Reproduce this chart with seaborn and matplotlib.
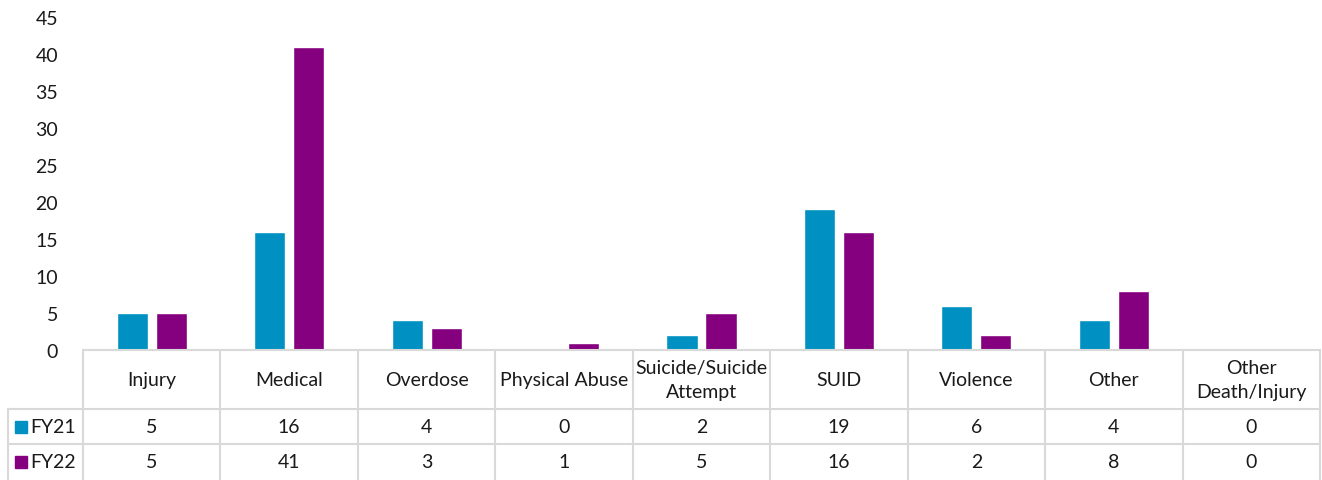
"""Child fatality / near-fatality counts by category, FY21 vs FY22, with data table."""

import matplotlib

matplotlib.use("Agg")

import matplotlib.pyplot as plt
import pandas as pd
import seaborn as sns

categories = [
    "Injury",
    "Medical",
    "Overdose",
    "Physical Abuse",
    "Suicide/Suicide\nAttempt",
    "SUID",
    "Violence",
    "Other",
    "Other\nDeath/Injury",
]
fy21_counts = [5, 16, 4, 0, 2, 19, 6, 4, 0]
fy22_counts = [5, 41, 3, 1, 5, 16, 2, 8, 0]
series_names = ["FY21", "FY22"]
y_ticks = [0, 5, 10, 15, 20, 25, 30, 35, 40, 45]

COLORS = {"FY21": "#0091C2", "FY22": "#85007F"}
GRID_GRAY = "#D9D9D9"
TEXT_COLOR = "#1A1A1A"

W, H = 1322, 481
sns.set_theme(style="white")
plt.rcParams["font.family"] = ["Lato", "DejaVu Sans"]

data = pd.DataFrame(
    {
        "category": categories * 2,
        "series": [series_names[0]] * len(categories) + [series_names[1]] * len(categories),
        "count": fy21_counts + fy22_counts,
    }
)

fig = plt.figure(figsize=(W / 100, H / 100), dpi=100)

# pixel layout of the plot area and table (from the reference)
left_px, right_px = 83, 1320
top_px, base_px = 18, 351
ax = fig.add_axes(
    [left_px / W, (H - base_px) / H, (right_px - left_px) / W, (base_px - top_px) / H]
)
sns.barplot(
    data=data,
    x="category",
    y="count",
    hue="series",
    order=categories,
    hue_order=series_names,
    palette=COLORS,
    width=0.567,
    gap=0.2,
    saturation=1,
    ax=ax,
    legend=False,
)
ax.set_xlim(-0.5, len(categories) - 0.5)
ax.set_ylim(0, 45)
ax.set_yticks(y_ticks)
ax.set_yticklabels([str(t) for t in y_ticks], fontsize=14, color=TEXT_COLOR)
ax.tick_params(axis="y", length=0, pad=18)
ax.set_xticks([])
ax.set_xlabel("")
ax.set_ylabel("")
for side in ["top", "right", "left", "bottom"]:
    ax.spines[side].set_visible(False)

# data table underneath, sharing the category scale
tab = fig.add_axes([left_px / W, 0, (right_px - left_px) / W, (H - base_px) / H])
tab.set_xlim(-0.5, len(categories) - 0.5)
tab.set_ylim(H, base_px)
tab.axis("off")

unit_per_px = len(categories) / (right_px - left_px)
label_left = -0.5 - (left_px - 8) * unit_per_px
row_edges = [base_px, 410, 445, H]
line_kw = dict(color=GRID_GRAY, lw=1.5, clip_on=False)

tab.plot([-0.5, len(categories) - 0.5], [row_edges[0]] * 2, **line_kw)
for y in row_edges[1:-1]:
    tab.plot([label_left, len(categories) - 0.5], [y, y], **line_kw)
for k in range(len(categories) + 1):
    tab.plot([k - 0.5, k - 0.5], [row_edges[0], row_edges[-1]], **line_kw)
tab.plot([label_left, label_left], [row_edges[1], row_edges[-1]], **line_kw)

header_mid = (row_edges[0] + row_edges[1]) / 2
for i, cat in enumerate(categories):
    tab.text(i, header_mid, cat, ha="center", va="center", fontsize=14,
             color=TEXT_COLOR, linespacing=1.45)

for r, (name, values) in enumerate(zip(series_names, [fy21_counts, fy22_counts])):
    mid = (row_edges[r + 1] + row_edges[r + 2]) / 2
    for i, v in enumerate(values):
        tab.text(i, mid, str(v), ha="center", va="center", fontsize=14, color=TEXT_COLOR)
    tab.plot([label_left + 13 * unit_per_px], [mid], marker="s", markersize=8,
             color=COLORS[name], clip_on=False, linestyle="none")
    tab.text(label_left + 22 * unit_per_px, mid, name, ha="left", va="center",
             fontsize=14, color=TEXT_COLOR, clip_on=False)

fig.savefig("out.png", dpi=100)
plt.close(fig)
